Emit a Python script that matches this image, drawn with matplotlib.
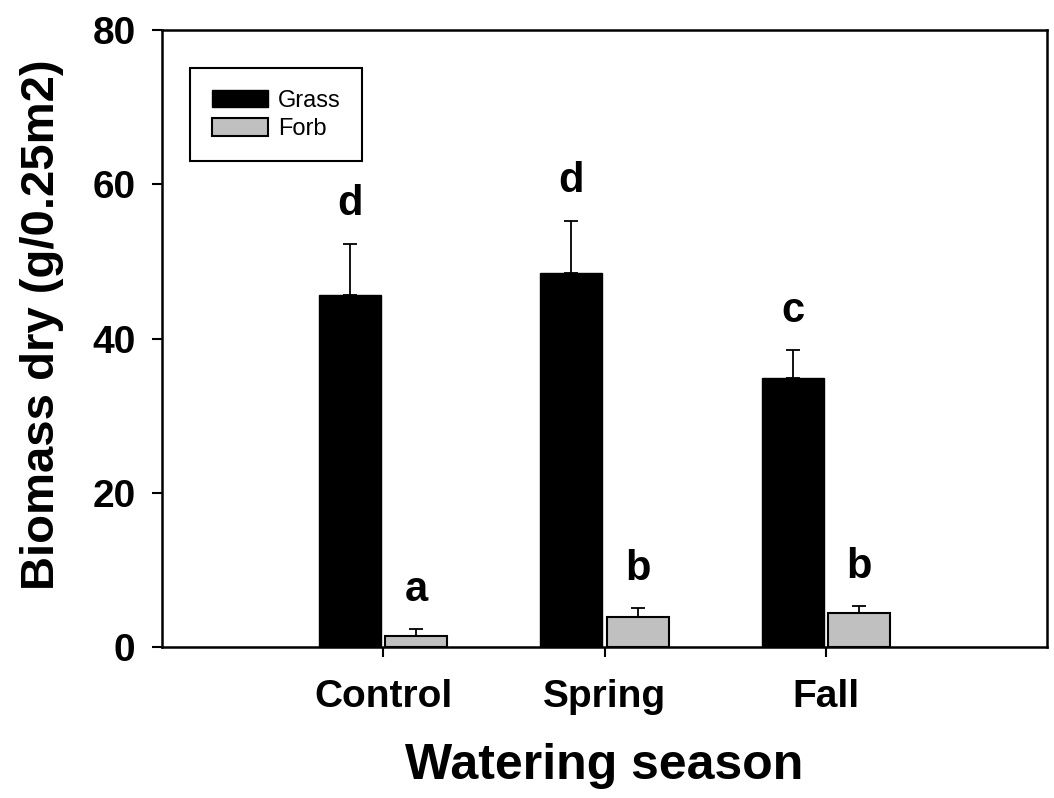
import numpy as np
import matplotlib.pyplot as plt
from matplotlib.patches import Patch

seasons = ['Control', 'Spring', 'Fall']
grass_mean = [45.7, 48.5, 34.9]
grass_se = [6.6, 6.8, 3.6]
forb_mean = [1.4, 3.9, 4.4]
forb_se = [0.9, 1.1, 0.9]
grass_letters = ['d', 'd', 'c']
forb_letters = ['a', 'b', 'b']

plt.rcParams['font.family'] = ['Liberation Sans', 'DejaVu Sans']
plt.rcParams['font.weight'] = 'bold'

fig = plt.figure(figsize=(10.54, 7.98), dpi=100)
ax = fig.add_axes([0.1537, 0.1892, 0.8397, 0.7732])

x = np.arange(1, len(seasons) + 1)
w = 0.28
off = 0.15

ax.bar(x - off, grass_mean, w, color='black', edgecolor='black', linewidth=1.0, zorder=2)
ax.bar(x + off, forb_mean, w, color='#c0c0c0', edgecolor='black', linewidth=1.5, zorder=2)

ax.errorbar(x - off, grass_mean, yerr=[np.zeros(3), grass_se], fmt='none',
            ecolor='black', elinewidth=1.3, capsize=5, capthick=1.3, zorder=1)
ax.errorbar(x + off, forb_mean, yerr=[np.zeros(3), forb_se], fmt='none',
            ecolor='black', elinewidth=1.3, capsize=5, capthick=1.3, zorder=1)

# significance letters above the error bars
for xi, m, s, lab in zip(x - off, grass_mean, grass_se, grass_letters):
    ax.annotate(lab, (xi, m + s), xytext=(0, 14), textcoords='offset points',
                ha='center', va='bottom', fontsize=30, fontweight='bold')
for xi, m, s, lab in zip(x + off, forb_mean, forb_se, forb_letters):
    ax.annotate(lab, (xi, m + s), xytext=(0, 14), textcoords='offset points',
                ha='center', va='bottom', fontsize=30, fontweight='bold')

ax.set_xlim(0, 4)
ax.set_ylim(0, 80)
ax.set_yticks([0, 20, 40, 60, 80])
ax.set_xticks(x)
ax.set_xticklabels(seasons)
ax.tick_params(direction='out', length=7, width=1.5, labelsize=28)
ax.tick_params(axis='x', pad=16)
ax.tick_params(axis='y', pad=12)
for lab in ax.get_xticklabels() + ax.get_yticklabels():
    lab.set_fontweight('bold')
for sp in ax.spines.values():
    sp.set_linewidth(1.8)

ax.set_xlabel('Watering season', fontsize=36, fontweight='bold', labelpad=20)
ax.set_ylabel('Biomass dry (g/0.25m2)', fontsize=34, fontweight='bold')
ax.yaxis.set_label_coords(-0.111, 0.523)

handles = [Patch(facecolor='black', edgecolor='black', label='Grass'),
           Patch(facecolor='#c0c0c0', edgecolor='black', linewidth=1.5, label='Forb')]
leg = ax.legend(handles=handles, loc='upper left', bbox_to_anchor=(0.032, 0.938),
                prop={'size': 17, 'weight': 'normal'}, fancybox=False, framealpha=1,
                edgecolor='black', handlelength=2.4, handleheight=0.75,
                borderpad=0.9, labelspacing=0.28, handletextpad=0.4, borderaxespad=0)
leg.get_frame().set_linewidth(1.5)

fig.savefig('out.png', dpi=100)
